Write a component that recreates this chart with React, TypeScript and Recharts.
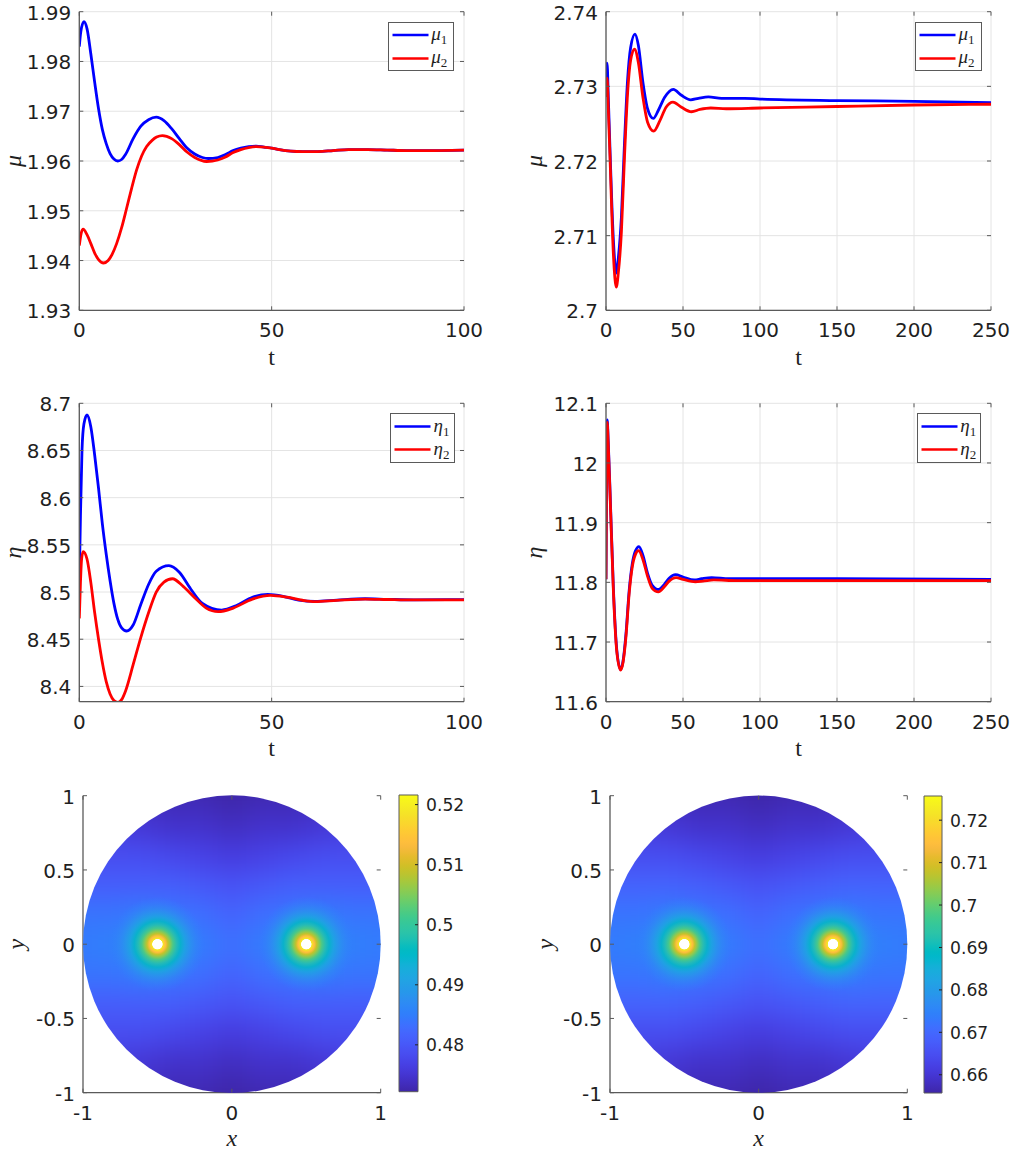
import React from 'react';
import { LineChart, Line, XAxis, YAxis, CartesianGrid, Legend, ScatterChart, Scatter, BarChart, Bar } from 'recharts';

// ---------- line panel data (t, value) ----------
const muA1T = [0,0.4,1.2,2,3,4,5,6,7,8,9,10,11,12,14,16,18,20,22,24,26,28,30,32,33.5,36,38,40,42,44,46,48,50,52,55,58,62,66,70,75,80,85,90,100];
const muA1V = [1.983,1.986,1.988,1.9866,1.9815,1.9758,1.9705,1.9663,1.9635,1.9615,1.9604,1.96,1.9603,1.9613,1.9645,1.967,1.9683,1.9688,1.9681,1.9665,1.9645,1.9626,1.9614,1.9607,1.9605,1.9607,1.9613,1.9621,1.9626,1.9629,1.963,1.9628,1.9626,1.9623,1.962,1.9619,1.9619,1.9621,1.9623,1.9623,1.9622,1.9621,1.9621,1.9622];
const muA2T = [0,0.5,1,2,3,4,5,6.3,7.5,8.5,9.7,11,12.3,13.6,14.9,16.2,17.5,19,20.1,21.6,24,26,28,30,33.1,36,38,40,42,44,46,48,50,52,55,58,62,66,70,75,80,85,90,100];
const muA2V = [1.943,1.9455,1.9463,1.9452,1.9434,1.9415,1.9402,1.9395,1.94,1.9412,1.9434,1.9466,1.9505,1.9545,1.9582,1.961,1.9629,1.9642,1.9648,1.9651,1.9645,1.9633,1.9618,1.9607,1.9599,1.9602,1.9608,1.9617,1.9623,1.9627,1.9629,1.9628,1.9626,1.9623,1.962,1.9619,1.9619,1.9621,1.9623,1.9623,1.9622,1.9621,1.9621,1.9622];

const muB1T = [0,0.7,1.5,2.6,4.8,6.7,8,10,12,14,16,18.8,21,24,27,30.7,34,38,43.7,49,55,60,66.5,75,90,100,150,200,250];
const muB1V = [2.7286,2.7331,2.7285,2.7215,2.7094,2.705,2.707,2.7125,2.7224,2.7308,2.7352,2.737,2.7355,2.7305,2.727,2.7257,2.7268,2.7285,2.7296,2.7288,2.7282,2.7284,2.7286,2.7284,2.7284,2.7283,2.7281,2.728,2.7278];
const muB2T = [0,0.7,1.5,2.6,4.8,6.7,8,10,12,14,16,18.5,21,24,27,31,35,39,43.5,49,55.5,61,68,78,100,150,200,250];
const muB2V = [2.7286,2.7311,2.727,2.7205,2.7075,2.7031,2.705,2.7105,2.7205,2.729,2.7335,2.735,2.7332,2.7285,2.7252,2.724,2.7254,2.7272,2.7279,2.7272,2.7266,2.7269,2.7271,2.727,2.7271,2.7273,2.7275,2.7276];

const etaA1T = [0,0.3,0.7,1.2,2,3,4,5,6,7,8,9,10,11,12.3,14,16,18,20,23.3,26,29,32,37,41,45,49,53,57,61.3,67,74.3,80,87,100];
const etaA1V = [8.5127,8.58,8.65,8.678,8.6876,8.675,8.645,8.61,8.572,8.54,8.512,8.488,8.471,8.462,8.4587,8.465,8.487,8.508,8.522,8.5279,8.521,8.503,8.488,8.4809,8.486,8.4945,8.4975,8.4955,8.4915,8.4901,8.4915,8.4929,8.4923,8.4917,8.492];
const etaA2T = [0,0.3,0.6,1,2,3,4,5,6,7,8,9,10,11,12,14,16,18,20,22,24.2,27,30,33,36.1,40,45,49.7,54,58,61.3,67,74.3,80,87,100];
const etaA2V = [8.4721,8.51,8.535,8.5428,8.535,8.51,8.478,8.45,8.425,8.405,8.392,8.385,8.383,8.386,8.395,8.423,8.452,8.478,8.5,8.5105,8.5141,8.506,8.494,8.483,8.4792,8.483,8.4925,8.4965,8.4945,8.4913,8.4898,8.4912,8.4926,8.4921,8.4916,8.4918];

const etaB1T = [0,0.4,0.8,1.4,2.6,4.8,7,9.5,11,13,15,17,19,21.4,24,27,30,34,38,41,45.2,50,57.4,62,68.6,80,100,150,250];
const etaB1V = [11.805,11.99,12.072,12.04,11.955,11.79,11.687,11.654,11.667,11.715,11.785,11.83,11.852,11.86,11.845,11.815,11.795,11.788,11.797,11.807,11.813,11.809,11.804,11.806,11.808,11.806,11.806,11.806,11.805];
const etaB2T = [0,0.4,0.8,1.4,2.6,4.8,7,9.5,11,13,15,17,19,21.2,24,27,30,34,38,41,45.5,50,58,63,70,85,100,150,250];
const etaB2V = [11.805,11.985,12.068,12.035,11.95,11.785,11.684,11.653,11.665,11.71,11.78,11.825,11.846,11.853,11.838,11.81,11.79,11.784,11.793,11.802,11.808,11.805,11.801,11.802,11.804,11.803,11.803,11.803,11.803];

// ---------- heat map data (quarter disc, mirrored) ----------
const gridX = [0, 0.2, 0.4, 0.6, 0.8, 1.0, 1.2];
const gridY = [0, 0.2, 0.4, 0.6, 0.8, 1.0, 1.2];
const fieldA = [
  [.4832,.4848,.4866,.4868,.4858,.4848,.4845],
  [.4818,.4828,.4842,.4846,.4842,.4838,.4835],
  [.4792,.4798,.4808,.4812,.4812,.4812,.4810],
  [.4762,.4766,.4775,.4782,.4786,.4788,.4788],
  [.4738,.4742,.4748,.4755,.4762,.4765,.4765],
  [.4724,.4726,.4730,.4738,.4745,.4750,.4750],
  [.4722,.4724,.4728,.4735,.4742,.4748,.4748],
];
const fieldB = [
  [.6712,.6735,.6761,.6764,.6750,.6735,.6731],
  [.6693,.6707,.6727,.6732,.6727,.6721,.6717],
  [.6656,.6665,.6679,.6685,.6685,.6685,.6682],
  [.6614,.6619,.6632,.6642,.6648,.6651,.6651],
  [.6580,.6585,.6594,.6604,.6614,.6618,.6618],
  [.6560,.6563,.6568,.6580,.6590,.6597,.6597],
  [.6557,.6560,.6565,.6576,.6586,.6594,.6594],
];
const spotCentres = [{ x: -0.5, y: 0 }, { x: 0.5, y: 0 }];
const spotRadii = [0.037, 0.055, 0.07, 0.085, 0.105, 0.13, 0.155, 0.185, 0.215, 0.25, 0.285, 0.32];
const spotA = [.5191,.5137,.5093,.5058,.5018,.4984,.4954,.4925,.4900,.4880,.4866,.4855];
const spotB = [.7222,.7145,.7082,.7033,.6977,.6928,.6886,.6844,.6809,.6781,.6761,.6745];
const parula = [
[.2422,.1504,.6603],[.2504,.165,.7076],[.2578,.1818,.7511],[.2647,.1978,.7952],[.2706,.2147,.8364],[.2751,.2342,.871],[.2783,.2559,.8991],[.2803,.2782,.9221],
[.2813,.3006,.9414],[.281,.3228,.9579],[.2795,.3447,.9717],[.276,.3667,.9829],[.2699,.3892,.9906],[.2602,.4123,.9952],[.244,.4358,.9988],[.2206,.4603,.9973],
[.1963,.4847,.9892],[.1834,.5074,.9798],[.1786,.5289,.9682],[.1764,.5499,.952],[.1687,.5703,.9359],[.154,.5902,.9218],[.146,.6091,.9079],[.138,.6276,.8973],
[.1248,.6459,.8883],[.1113,.6635,.8763],[.0952,.6798,.8598],[.0689,.6948,.8394],[.0297,.7082,.8163],[.0036,.7203,.7917],[.0067,.7312,.766],[.0433,.7411,.7394],
[.0964,.75,.712],[.1408,.7584,.6842],[.1717,.767,.6554],[.1938,.7758,.6251],[.2161,.7843,.5923],[.247,.7918,.5567],[.2906,.7973,.5188],[.3406,.8008,.4789],
[.3909,.8029,.4354],[.4456,.8024,.3909],[.5044,.7993,.348],[.5616,.7942,.3045],[.6174,.7876,.2612],[.672,.7793,.2227],[.7242,.7698,.191],[.7738,.7598,.1646],
[.8203,.7498,.1535],[.8634,.7406,.1596],[.9035,.733,.1774],[.9393,.7288,.21],[.9728,.7298,.2394],[.9956,.7434,.2371],[.997,.7659,.2199],[.9952,.7893,.2028],
[.9892,.8136,.1885],[.9786,.8386,.1766],[.9676,.8639,.1643],[.961,.889,.1537],[.9597,.9135,.1423],[.9628,.9373,.1265],[.9691,.9606,.1064],[.9769,.9839,.0805],
];
const ticksT100 = [0, 50, 100];
const ticksT250 = [0, 50, 100, 150, 200, 250];
const ticksMuA = [1.93, 1.94, 1.95, 1.96, 1.97, 1.98, 1.99];
const ticksMuB = [2.7, 2.71, 2.72, 2.73, 2.74];
const ticksEtaA = [8.4, 8.45, 8.5, 8.55, 8.6, 8.65, 8.7];
const ticksEtaB = [11.6, 11.7, 11.8, 11.9, 12, 12.1];
const ticksXY = [-1, -0.5, 0, 0.5, 1];
const ticksXOnly = [-1, 0, 1];
const ticksBarA = [0.48, 0.49, 0.5, 0.51, 0.52];
const ticksBarB = [0.66, 0.67, 0.68, 0.69, 0.7, 0.71, 0.72];

// ---------- styling ----------
const SANS = "'DejaVu Sans', sans-serif";
const SERIF = "'Liberation Serif', serif";
const INK = '#1f1f1f';
const BOX = '#5a5a5a';
const GRID = '#e4e4e4';
const BLUE = '#0000ff';
const RED = '#ff0000';
const LABEL = 24;

const zip = (t: number[], v: number[]) => t.map((x, i) => ({ x, y: v[i] }));
const colour = (v: number, lo: number, hi: number) => {
  const f = Math.max(0, Math.min(1, (v - lo) / (hi - lo)));
  const c = parula[Math.round(f * (parula.length - 1))];
  return `rgb(${Math.round(c[0] * 255)},${Math.round(c[1] * 255)},${Math.round(c[2] * 255)})`;
};

const xTick = (plotH: number, fs = 20) => (p: any) => (
  <g>
    <line x1={p.x} x2={p.x} y1={p.y} y2={p.y - 4} stroke={BOX} strokeWidth={1} />
    <line x1={p.x} x2={p.x} y1={p.y - plotH} y2={p.y - plotH + 4} stroke={BOX} strokeWidth={1} />
    <text x={p.x} y={p.y + 27} textAnchor="middle" fontSize={fs} fontFamily={SANS} fill={INK}>{String(p.payload.value)}</text>
  </g>
);
const yTick = (plotW: number, fs = 20) => (p: any) => (
  <g>
    <line x1={p.x} x2={p.x + 4} y1={p.y} y2={p.y} stroke={BOX} strokeWidth={1} />
    <line x1={p.x + plotW - 4} x2={p.x + plotW} y1={p.y} y2={p.y} stroke={BOX} strokeWidth={1} />
    <text x={p.x - 8} y={p.y + 8} textAnchor="end" fontSize={fs} fontFamily={SANS} fill={INK}>{String(p.payload.value)}</text>
  </g>
);

const LegendBox = ({ payload, lineLeft, lineW, textLeft, rows }: any) => (
  <div style={{ position: 'relative', width: '100%', height: '100%', boxSizing: 'border-box', border: `1.4px solid ${BOX}`, background: '#fff' }}>
    <svg width="100%" height="100%" style={{ position: 'absolute', left: 0, top: 0 }}>
      {(payload || []).map((e: any, i: number) => (
        <line key={e.value} x1={lineLeft} x2={lineLeft + lineW} y1={rows[i]} y2={rows[i]} stroke={e.color} strokeWidth={2.5} />
      ))}
    </svg>
    {(payload || []).map((e: any, i: number) => (
      <div key={e.value} style={{ position: 'absolute', left: textLeft, top: rows[i] - 12, fontFamily: SERIF, fontSize: 19, lineHeight: '22px', color: INK, whiteSpace: 'nowrap' }}>
        <i>{String(e.value)[0]}</i><span style={{ fontSize: 13, position: 'relative', top: 4 }}>{String(e.value).slice(1)}</span>
      </div>
    ))}
  </div>
);

function LinePanel({ box, plot, s1, s2, names, yName, xDomain, xTicks, yDomain, yTicks, legend, yLabelX, tOffset }: any) {
  const L = plot.x0 - box.x, T = plot.y0 - box.y, W = plot.x1 - plot.x0, H = plot.y1 - plot.y0;
  const B = box.y + box.h - plot.y1, R = box.x + box.w - plot.x1;
  return (
    <div style={{ position: 'absolute', left: box.x, top: box.y }}>
      <LineChart width={box.w} height={box.h} margin={{ top: T, right: R, left: 0, bottom: 0 }}>
        <CartesianGrid stroke={GRID} strokeWidth={1} />
        <XAxis dataKey="x" type="number" domain={xDomain} ticks={xTicks} interval={0} height={B} tickSize={0} tickMargin={0} tickLine={false} axisLine={{ stroke: BOX, strokeWidth: 1.3 }} tick={xTick(H)} allowDataOverflow
          label={{ value: 't', position: 'insideBottom', offset: tOffset, style: { fontFamily: SERIF, fontSize: LABEL, fill: INK } }} />
        <YAxis type="number" domain={yDomain} ticks={yTicks} interval={0} width={L} tickSize={0} tickMargin={0} tickLine={false} axisLine={{ stroke: BOX, strokeWidth: 1.3 }} tick={yTick(W)} allowDataOverflow
          label={{ value: yName, position: 'insideLeft', offset: yLabelX, angle: -90, textAnchor: 'middle', style: { fontFamily: SERIF, fontStyle: 'italic', fontSize: LABEL, fill: INK } }} />
        <XAxis xAxisId="top" orientation="top" type="number" domain={xDomain} height={0} tick={false} tickLine={false} axisLine={{ stroke: BOX, strokeWidth: 1.3 }} />
        <YAxis yAxisId="right" orientation="right" type="number" domain={yDomain} width={0} tick={false} tickLine={false} axisLine={{ stroke: BOX, strokeWidth: 1.3 }} />
        <Line data={s1} dataKey="y" name={names[0]} type="monotone" stroke={BLUE} strokeWidth={2.8} dot={false} isAnimationActive={false} />
        <Line data={s2} dataKey="y" name={names[1]} type="monotone" stroke={RED} strokeWidth={2.8} dot={false} isAnimationActive={false} />
        <Legend layout="vertical" align="center" verticalAlign="middle"
          wrapperStyle={{ position: 'absolute', left: legend.x - box.x, top: legend.y - box.y, width: legend.w, height: legend.h, margin: 0, padding: 0 }}
          content={(p: any) => <LegendBox payload={p.payload} lineLeft={legend.lineLeft} lineW={36} textLeft={legend.lineLeft + 39} rows={legend.rows} />} />
      </LineChart>
    </div>
  );
}

const mirrorField = (rows: number[][]) => {
  const out: { x: number; y: number; v: number }[] = [];
  rows.forEach((row, j) => row.forEach((v, i) => {
    for (const sx of i === 0 ? [1] : [-1, 1]) for (const sy of j === 0 ? [1] : [-1, 1]) {
      out.push({ x: sx * gridX[i], y: sy * gridY[j], v });
    }
  }));
  return out;
};

function HeatPanel({ id, box, plot, field, spot, barBox, barDomain, barTicks, yLabelX }: any) {
  const L = plot.x0 - box.x, T = plot.y0 - box.y, W = plot.x1 - plot.x0, H = plot.y1 - plot.y0;
  const B = box.y + box.h - plot.y1, R = box.x + box.w - plot.x1;
  const [lo, hi] = barDomain;
  const cell = (W / 2) * (gridX[1] - gridX[0]);
  const maxR = spotRadii[spotRadii.length - 1];
  const spotPx = (W / 2) * maxR;
  const barData = [{ name: 'c', top: hi }];
  return (
    <>
      <svg width={0} height={0} style={{ position: 'absolute' }}>
        <defs>
          <clipPath id={`disc-${id}`} clipPathUnits="userSpaceOnUse">
            <circle cx={L + W / 2} cy={T + H / 2} r={W / 2} />
          </clipPath>
          <radialGradient id={`spot-${id}`}>
            <stop offset={0} stopColor="#fff" />
            <stop offset={(spotRadii[0] - 0.004) / maxR} stopColor="#fff" />
            {spot.map((v: number, i: number) => (
              <stop key={i} offset={spotRadii[i] / maxR} stopColor={colour(v, lo, hi)} stopOpacity={i === spot.length - 1 ? 0 : 1 - Math.pow(i / (spot.length - 1), 3)} />
            ))}
          </radialGradient>
          <linearGradient id={`bar-${id}`} x1="0" y1="1" x2="0" y2="0">
            {parula.map((c, i) => (
              <stop key={i} offset={i / (parula.length - 1)} stopColor={`rgb(${c.map((k) => Math.round(k * 255)).join(',')})`} />
            ))}
          </linearGradient>
        </defs>
      </svg>
      <style>{`.field-${id}{filter:url(#soften);clip-path:url(#disc-${id});}`}</style>
      <div style={{ position: 'absolute', left: box.x, top: box.y }}>
        <ScatterChart width={box.w} height={box.h} margin={{ top: T, right: R, left: 0, bottom: 0 }}>
          <XAxis dataKey="x" type="number" domain={[-1, 1]} allowDataOverflow ticks={ticksXOnly} interval={0} height={B} tickSize={0} tickMargin={0} tickLine={false} axisLine={{ stroke: BOX, strokeWidth: 1.3 }} tick={xTick(H)}
            label={{ value: 'x', position: 'insideBottom', offset: 5, style: { fontFamily: SERIF, fontStyle: 'italic', fontSize: LABEL, fill: INK } }} />
          <YAxis dataKey="y" type="number" domain={[-1, 1]} allowDataOverflow ticks={ticksXY} interval={0} width={L} tickSize={0} tickMargin={0} tickLine={false} axisLine={{ stroke: BOX, strokeWidth: 1.3 }} tick={yTick(W)}
            label={{ value: 'y', position: 'insideLeft', offset: yLabelX, angle: -90, textAnchor: 'middle', style: { fontFamily: SERIF, fontStyle: 'italic', fontSize: LABEL, fill: INK } }} />
          <XAxis xAxisId="top" orientation="top" type="number" domain={[-1, 1]} height={0} tick={false} tickLine={false} axisLine={{ stroke: BOX, strokeWidth: 1.3 }} />
          <YAxis yAxisId="right" orientation="right" type="number" domain={[-1, 1]} width={0} tick={false} tickLine={false} axisLine={{ stroke: BOX, strokeWidth: 1.3 }} />
          <Scatter className={`field-${id}`} data={field} isAnimationActive={false}
            shape={(p: any) => <rect x={p.cx - cell / 2 - 0.5} y={p.cy - cell / 2 - 0.5} width={cell + 1} height={cell + 1} fill={colour(p.payload.v, lo, hi)} />} />
          <Scatter data={spotCentres} isAnimationActive={false}
            shape={(p: any) => <circle cx={p.cx} cy={p.cy} r={spotPx} fill={`url(#spot-${id})`} />} />
        </ScatterChart>
      </div>
      <div style={{ position: 'absolute', left: barBox.x0 - 2, top: barBox.y0 - 5 }}>
        <BarChart width={barBox.x1 - barBox.x0 + 62} height={barBox.y1 - barBox.y0 + 10} data={barData} barCategoryGap={0}
          margin={{ top: 5, right: 0, left: 2, bottom: 5 }}>
          <XAxis dataKey="name" hide />
          <YAxis orientation="right" type="number" domain={barDomain} ticks={barTicks} interval={0} width={60} tickSize={0} tickMargin={0} tickLine={false} axisLine={false}
            tick={(p: any) => (
              <g>
                <line x1={p.x - 3} x2={p.x} y1={p.y} y2={p.y} stroke="#222" strokeWidth={1} />
                <text x={p.x + 8} y={p.y + 6.5} fontSize={17.2} fontFamily={SANS} fill={INK}>{String(p.payload.value)}</text>
              </g>
            )} />
          <Bar dataKey="top" fill={`url(#bar-${id})`} stroke={BOX} strokeWidth={1} isAnimationActive={false} />
        </BarChart>
      </div>
    </>
  );
}

export default function App() {
  return (
    <div style={{ position: 'absolute', left: 0, top: 0, width: 1013, height: 1151, background: '#fff', overflow: 'hidden' }}>
      <svg width={0} height={0} style={{ position: 'absolute' }}>
        <defs>
          <filter id="soften" filterUnits="userSpaceOnUse" x="-100" y="-100" width="800" height="800" colorInterpolationFilters="sRGB">
            <feGaussianBlur stdDeviation="12" />
          </filter>
        </defs>
      </svg>
      <LinePanel box={{ x: 0, y: 0, w: 500, h: 375 }} plot={{ x0: 79.3, x1: 464, y0: 11.7, y1: 310.3 }}
        s1={zip(muA1T, muA1V)} s2={zip(muA2T, muA2V)} names={['μ1', 'μ2']} yName="μ" xDomain={[0, 100]} xTicks={ticksT100} yDomain={[1.93, 1.99]} yTicks={ticksMuA}
        legend={{ x: 387.7, y: 21.7, w: 66.6, h: 49.3, lineLeft: 3.5, rows: [12, 35.5] }} yLabelX={12} tOffset={10} />
      <LinePanel box={{ x: 510, y: 0, w: 503, h: 375 }} plot={{ x0: 606, x1: 991, y0: 11.7, y1: 310.3 }}
        s1={zip(muB1T, muB1V)} s2={zip(muB2T, muB2V)} names={['μ1', 'μ2']} yName="μ" xDomain={[0, 250]} xTicks={ticksT250} yDomain={[2.7, 2.74]} yTicks={ticksMuB}
        legend={{ x: 915, y: 21.7, w: 66.6, h: 49.3, lineLeft: 3.5, rows: [12, 35.5] }} yLabelX={23} tOffset={10} />
      <LinePanel box={{ x: 0, y: 380, w: 500, h: 385 }} plot={{ x0: 79.3, x1: 464, y0: 403.3, y1: 701.7 }}
        s1={zip(etaA1T, etaA1V)} s2={zip(etaA2T, etaA2V)} names={['η1', 'η2']} yName="η" xDomain={[0, 100]} xTicks={ticksT100} yDomain={[8.3838, 8.7]} yTicks={ticksEtaA}
        legend={{ x: 390, y: 413.3, w: 64.5, h: 49.4, lineLeft: 3.5, rows: [12.5, 35.5] }} yLabelX={12} tOffset={9} />
      <LinePanel box={{ x: 510, y: 380, w: 503, h: 385 }} plot={{ x0: 606, x1: 991, y0: 403.3, y1: 701.7 }}
        s1={zip(etaB1T, etaB1V)} s2={zip(etaB2T, etaB2V)} names={['η1', 'η2']} yName="η" xDomain={[0, 250]} xTicks={ticksT250} yDomain={[11.6, 12.1]} yTicks={ticksEtaB}
        legend={{ x: 916.7, y: 413.3, w: 64.5, h: 49.4, lineLeft: 3.5, rows: [12.5, 35.5] }} yLabelX={23} tOffset={9} />
      <HeatPanel id="a" box={{ x: 0, y: 780, w: 395, h: 371 }} plot={{ x0: 83, x1: 380.7, y0: 795.7, y1: 1092.7 }}
        field={mirrorField(fieldA)} spot={spotA} barBox={{ x0: 399, x1: 418, y0: 795, y1: 1091.7 }} barDomain={[0.4722, 0.5216]} barTicks={ticksBarA} yLabelX={15} />
      <HeatPanel id="b" box={{ x: 510, y: 780, w: 410, h: 371 }} plot={{ x0: 610, x1: 907.3, y0: 795.7, y1: 1092.7 }}
        field={mirrorField(fieldB)} spot={spotB} barBox={{ x0: 924, x1: 942, y0: 795.7, y1: 1092.7 }} barDomain={[0.6557, 0.7257]} barTicks={ticksBarB} yLabelX={34} />
    </div>
  );
}
